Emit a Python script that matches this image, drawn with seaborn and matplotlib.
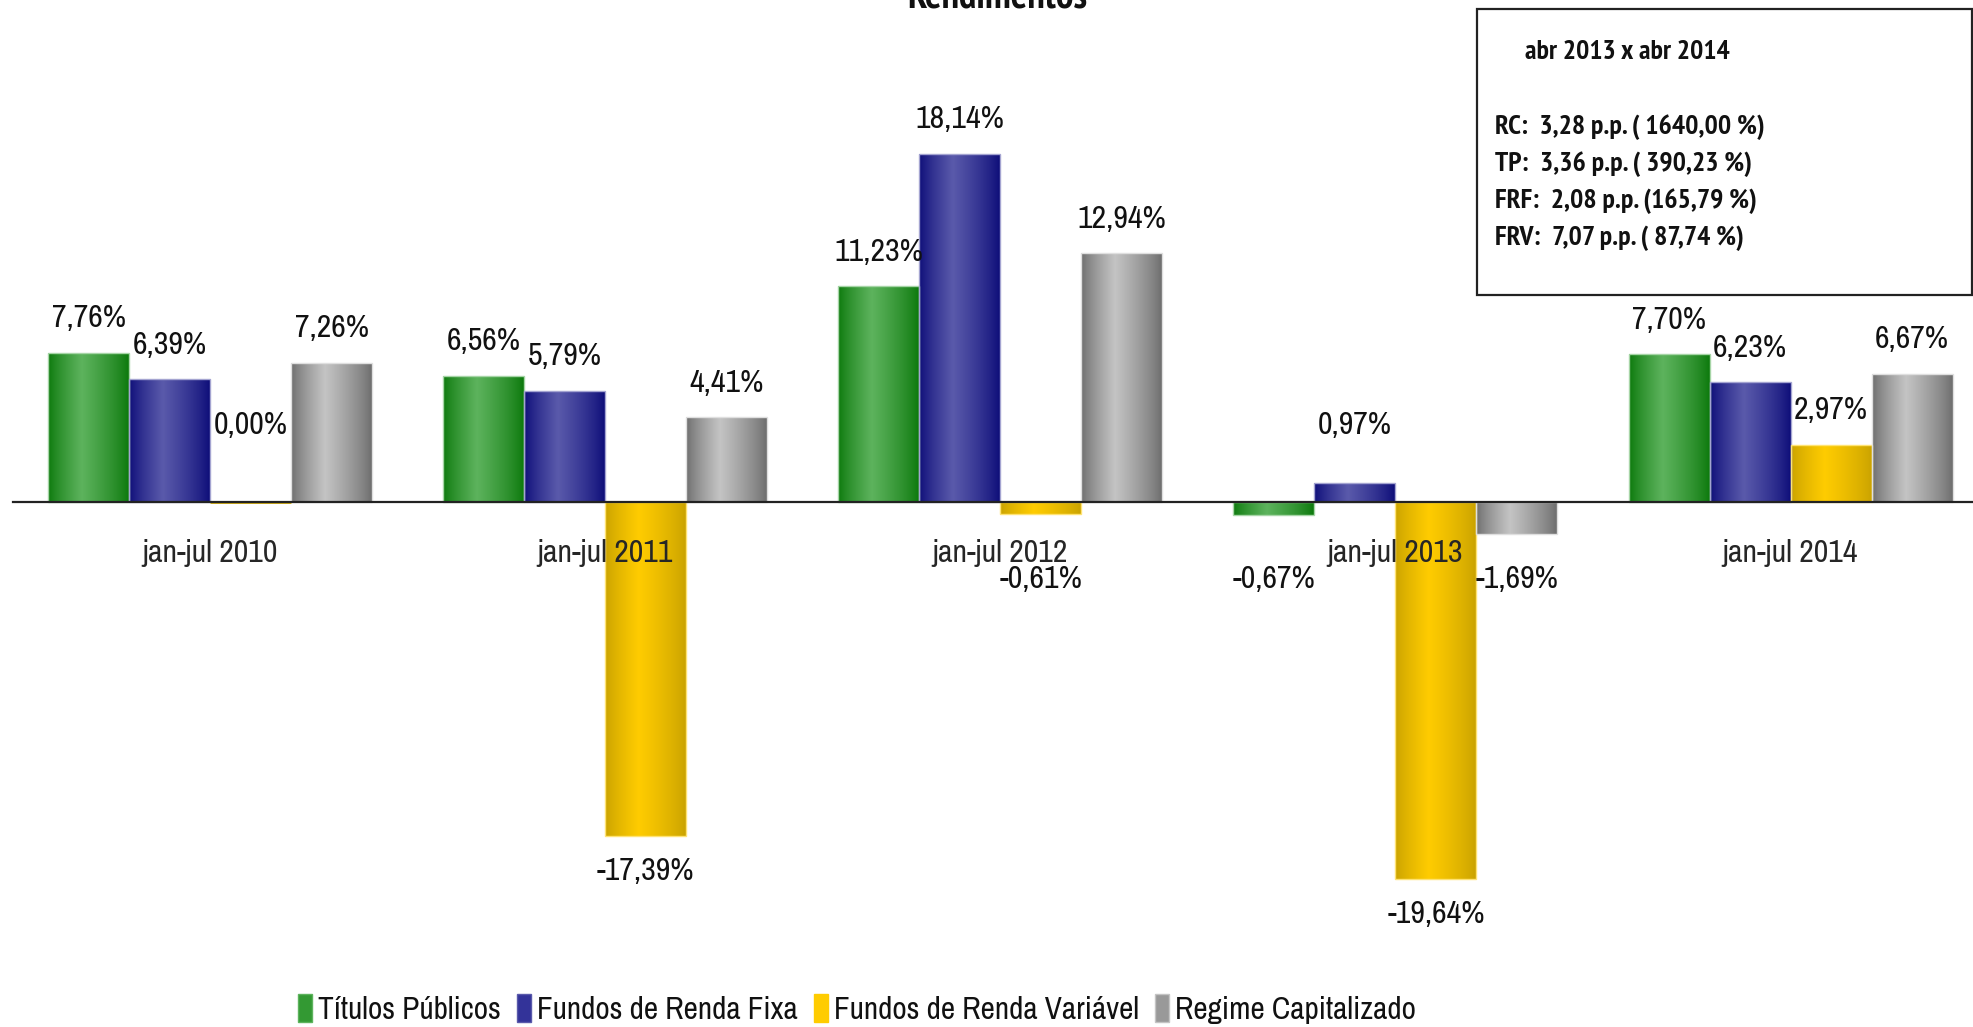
import numpy as np
import pandas as pd
import matplotlib
matplotlib.use("Agg")
import matplotlib.pyplot as plt
import matplotlib.colors as mcolors
from matplotlib.patches import Rectangle
from matplotlib import font_manager as fm
import seaborn as sns

# ---------------- data ----------------
categories = ["jan-jul 2010", "jan-jul 2011", "jan-jul 2012", "jan-jul 2013", "jan-jul 2014"]
series = ["Títulos Públicos", "Fundos de Renda Fixa", "Fundos de Renda Variável", "Regime Capitalizado"]
titulos_publicos = [7.76, 6.56, 11.23, -0.67, 7.70]
renda_fixa = [6.39, 5.79, 18.14, 0.97, 6.23]
renda_variavel = [0.00, -17.39, -0.61, -19.64, 2.97]
regime_capitalizado = [7.26, 4.41, 12.94, -1.69, 6.67]

title = "Rendimentos"
box_header = "abr 2013 x abr 2014"
box_lines = [
    "RC:  3,28 p.p. ( 1640,00 %)",
    "TP:  3,36 p.p. ( 390,23 %)",
    "FRF:  2,08 p.p. (165,79 %)",
    "FRV:  7,07 p.p. ( 87,74 %)",
]

# colours: (edge/dark, centre/light)
dark_colors = ["#0b780b", "#0c0c78", "#c9a200", "#6c6c6c"]
light_colors = ["#5db35d", "#5a5aab", "#ffcc00", "#c4c4c4"]
mid_colors = ["#339933", "#333399", "#ffcc00", "#999999"]

df = pd.DataFrame({
    "categoria": np.repeat(categories, len(series)),
    "serie": series * len(categories),
    "valor": np.array([titulos_publicos, renda_fixa, renda_variavel, regime_capitalizado]).T.ravel(),
})

# ---------------- fonts ----------------
sns.set_theme(style="white")
candidates = ["Liberation Sans Narrow", "Arial Narrow", "Archivo Narrow", "PT Sans Narrow",
              "Roboto Condensed", "IBM Plex Sans Condensed", "Open Sans Condensed"]

def _w(w):
    if isinstance(w, str):
        return fm.weight_dict.get(w, 400)
    return int(w)

weights = {}
for f in fm.fontManager.ttflist:
    weights.setdefault(f.name, set()).add(_w(f.weight))

regular_fam = next((c for c in candidates if c in weights), "Liberation Sans")
bold_fam = next((c for c in candidates if c in weights and max(weights[c]) >= 700), "Liberation Sans")
plt.rcParams["font.family"] = [regular_fam, "DejaVu Sans"]
plt.rcParams["text.color"] = "#111111"
BOLD = [bold_fam, "DejaVu Sans"]

W, H, DPI = 1973, 1027, 100
fig = plt.figure(figsize=(W / DPI, H / DPI), dpi=DPI)

ymin, ymax = -25.0, 25.0
px_per_unit = 19.21
zero_px = 502.0
ax_left = 12.6 / W
ax_width = 5 * 395.1 / W
ax_top_px = zero_px - ymax * px_per_unit
ax_h_px = (ymax - ymin) * px_per_unit
ax = fig.add_axes([ax_left, 1 - (ax_top_px + ax_h_px) / H, ax_width, ax_h_px / H])

sns.barplot(data=df, x="categoria", y="valor", hue="serie", order=categories,
            hue_order=series, palette=mid_colors, width=0.82, ax=ax,
            legend=False, errorbar=None, saturation=1)

ax.set_xlim(-0.5, 4.5)
ax.set_ylim(ymin, ymax)

# gradient fill on every bar
def grad_image(dark, light):
    d = np.array(mcolors.to_rgb(dark))
    l = np.array(mcolors.to_rgb(light))
    t = np.linspace(0, 1, 256)
    peak = 0.42
    w = np.where(t < peak, t / peak, (1 - t) / (1 - peak))
    w = np.clip(w, 0, 1) ** 0.8
    row = d[None, :] * (1 - w[:, None]) + l[None, :] * w[:, None]
    return row[None, :, :]

for k, cont in enumerate(ax.containers):
    img = grad_image(dark_colors[k], light_colors[k])
    edge = mcolors.to_rgb(light_colors[k])
    edge = tuple(0.55 * np.array(edge) + 0.45)
    for bar in cont:
        x0, y0 = bar.get_x(), bar.get_y()
        w, h = bar.get_width(), bar.get_height()
        bar.set_facecolor("none")
        bar.set_edgecolor(edge)
        bar.set_linewidth(1.0)
        bar.set_zorder(1.3)
        if abs(h) > 1e-9:
            im = ax.imshow(img, extent=[x0, x0 + w, min(y0, y0 + h), max(y0, y0 + h)],
                           aspect="auto", zorder=1.2, interpolation="bilinear")
            im.set_clip_path(bar)
        else:
            bar.set_edgecolor(dark_colors[k])
            bar.set_linewidth(2.0)

ax.set_xlim(-0.5, 4.5)
ax.set_ylim(ymin, ymax)
ax.set_aspect("auto")

# value labels
label_fs = 23
for k, cont in enumerate(ax.containers):
    for bar, cat in zip(cont, categories):
        v = df[(df.categoria == cat) & (df.serie == series[k])].valor.iloc[0]
        sgn = 1 if v >= 0 else -1
        ypos = sgn * max(abs(v) + 1.8, 4.0)
        txt = f"{v:.2f}".replace(".", ",") + "%"
        ax.text(bar.get_x() + bar.get_width() / 2, ypos, txt, ha="center", va="center",
                fontsize=label_fs, zorder=3, color="#111111", fontweight="medium")

# axes decoration
ax.set_axisbelow(False)
for s in ["top", "right", "left"]:
    ax.spines[s].set_visible(False)
ax.spines["bottom"].set_position(("data", 0))
ax.spines["bottom"].set_linewidth(1.6)
ax.spines["bottom"].set_color("#222222")
ax.set_yticks([])
ax.set_xticks(range(len(categories)))
ax.set_xticklabels(categories, fontsize=label_fs, fontweight="medium")
ax.set_xticks(np.arange(-0.5, len(categories), 1.0), minor=True)
ax.tick_params(axis="x", which="major", length=0, pad=26.5)
ax.tick_params(axis="x", which="minor", length=8, width=1.4, direction="out", color="#222222")
ax.set_xlabel("")
ax.set_ylabel("")
ax.patch.set_alpha(0)

# title (partly cut at top)
fig.text(997 / W, 1 - 8 / H, title, ha="center", va="baseline", fontsize=28,
         fontweight="bold", family=BOLD)

# legend
handles = [Rectangle((0, 0), 1, 1, facecolor=mid_colors[k], edgecolor=light_colors[k]) for k in range(4)]
fig.legend(handles, series, loc="center", bbox_to_anchor=(857 / W, 1 - 1009 / H),
           ncol=4, frameon=False, prop={"size": 22.5, "weight": "medium"},
           handlelength=0.45, handleheight=1.0,
           handletextpad=0.2, columnspacing=0.5, borderpad=0)

# annotation box
box = Rectangle((1477 / W, 1 - 295 / H), (1972 - 1477) / W, (295 - 9) / H,
                transform=fig.transFigure, facecolor="white", edgecolor="#222222",
                linewidth=1.6, zorder=5)
fig.add_artist(box)
fig.text(1525 / W, 1 - 52 / H, box_header, ha="left", va="center", fontsize=20,
         fontweight="bold", family=BOLD, zorder=6)
for i, line in enumerate(box_lines):
    fig.text(1495 / W, 1 - (127 + 37 * i) / H, line, ha="left", va="center", fontsize=20,
             fontweight="bold", family=BOLD, zorder=6)

fig.savefig("out.png", dpi=DPI)
